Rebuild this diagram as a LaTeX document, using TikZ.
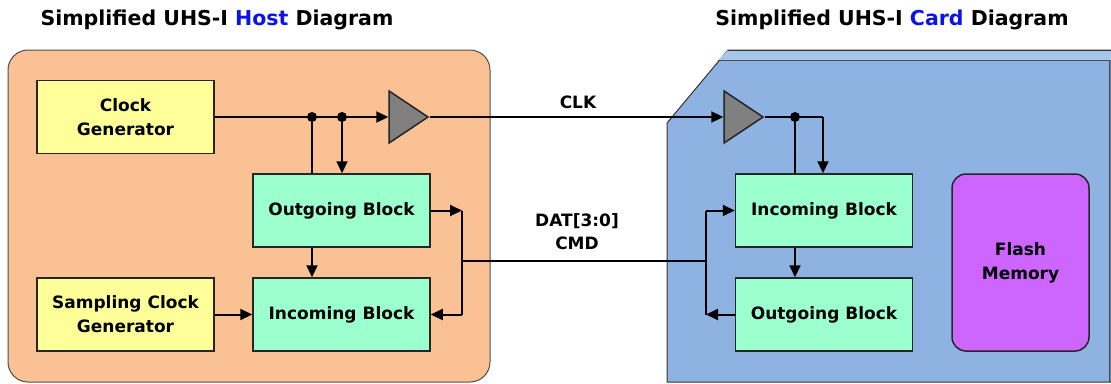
\documentclass[tikz,border=0pt]{standalone}
\usepackage{fontspec}
\setmainfont{DejaVu Sans}
\usetikzlibrary{arrows.meta,shapes.geometric}
\definecolor{hostbg}{RGB}{250,194,148}
\definecolor{cardbg}{RGB}{142,179,226}
\definecolor{cardtop}{RGB}{166,198,236}
\definecolor{genyellow}{RGB}{255,255,153}
\definecolor{iogreen}{RGB}{155,255,206}
\definecolor{bufgray}{RGB}{128,128,128}
\definecolor{flashpurple}{RGB}{204,102,255}
\definecolor{titleblue}{RGB}{10,20,230}
\tikzset{
  blk/.style={draw=black!85, line width=1.5pt, minimum width=177pt, minimum height=73pt,
    inner sep=0pt, align=center, font=\bfseries\fontsize{17}{24}\selectfont},
  gen/.style={blk, fill=genyellow},
  io/.style={blk, fill=iogreen},
  buf/.style={draw=black!85, fill=bufgray, line width=1.5pt, isosceles triangle,
    isosceles triangle stretches, minimum width=52pt, minimum height=39pt, inner sep=0pt},
  wire/.style={line width=2pt},
  arr/.style={wire, -{Triangle[length=12pt,width=11pt]}},
  dot/.style={circle, fill, inner sep=0pt, minimum size=10pt},
  lbl/.style={font=\bfseries\fontsize{17}{23}\selectfont, align=center},
  ttl/.style={font=\bfseries\fontsize{20.5}{24}\selectfont},
}
\begin{document}
\begin{tikzpicture}[x=1pt,y=-1pt]
\useasboundingbox (0,0) rectangle (1111,383);
\draw[draw=black!70, fill=hostbg, line width=1pt, rounded corners=20pt] (8,50) rectangle (490,382);
\draw[draw=black!80, fill=cardbg, line width=1pt] (667,382) -- (667,123) -- (728,50) -- (1111,50) -- (1111,382) -- cycle;
\fill[cardtop] (718,60) -- (728,50) -- (1111,50) -- (1111,60) -- cycle;
\draw[draw=black!70, line width=1pt] (718,60) -- (1109,60) -- (1109,382);
\draw[draw=black!80, line width=1pt] (728,50) -- (1111,50);
\node[ttl] (htitle) at (217,20) {Simplified UHS-I \textcolor{titleblue}{Host} Diagram};
\node[ttl] (ctitle) at (892,20) {Simplified UHS-I \textcolor{titleblue}{Card} Diagram};
\node[gen] (clkgen) at (125.5,117) {Clock\\Generator};
\node[gen] (smpgen) at (125.5,314.5) {Sampling Clock\\Generator};
\node[io] (hout) at (341.5,210.5) {Outgoing Block};
\node[io] (hin) at (341.5,314.5) {Incoming Block};
\node[buf, anchor=apex] (hbuf) at (430,117) {};
\node[io] (cin) at (824,210.5) {Incoming Block};
\node[io] (cout) at (824,314.5) {Outgoing Block};
\node[buf, anchor=apex] (cbuf) at (765,117) {};
\node[blk, fill=flashpurple, rounded corners=14pt, minimum width=137pt, minimum height=177pt] (flash) at (1020.5,262.5) {Flash\\Memory};
\node[lbl] (clklbl) at (578,102) {CLK};
\node[lbl] (datlbl) at (577,232) {DAT[3:0]\\CMD};
\node[dot] (hdota) at (312,117) {};
\node[dot] (hdotb) at (342,117) {};
\node[dot] (cdot) at (795,117) {};
\coordinate (hbus) at (462,261);
\coordinate (cbus) at (706,261);
\coordinate (cturn) at (823,117);
\draw[arr] (clkgen.east) -- (hbuf.lower side);
\draw[wire] (hdota) -- (hdota |- hout.north);
\draw[arr] (hdotb) -- (hdotb |- hout.north);
\draw[arr] (hout.south -| hdota) -- (hin.north -| hdota);
\draw[arr] (smpgen.east) -- (hin.west);
\draw[arr] (hout.east) -- (hout.east -| hbus);
\draw[wire] (hout.east -| hbus) -- (hin.east -| hbus);
\draw[arr] (hin.east -| hbus) -- (hin.east);
\draw[wire] (hbus) -- (cbus);
\draw[arr] (hbuf.apex) -- (cbuf.lower side);
\draw[wire] (cbuf.apex) -- (cturn);
\draw[arr] (cturn) -- (cturn |- cin.north);
\draw[wire] (cdot) -- (cdot |- cin.north);
\draw[arr] (cin.south -| cdot) -- (cout.north -| cdot);
\draw[wire] (cin.west -| cbus) -- (cout.west -| cbus);
\draw[arr] (cin.west -| cbus) -- (cin.west);
\draw[arr] (cout.west) -- (cout.west -| cbus);
\end{tikzpicture}
\end{document}
